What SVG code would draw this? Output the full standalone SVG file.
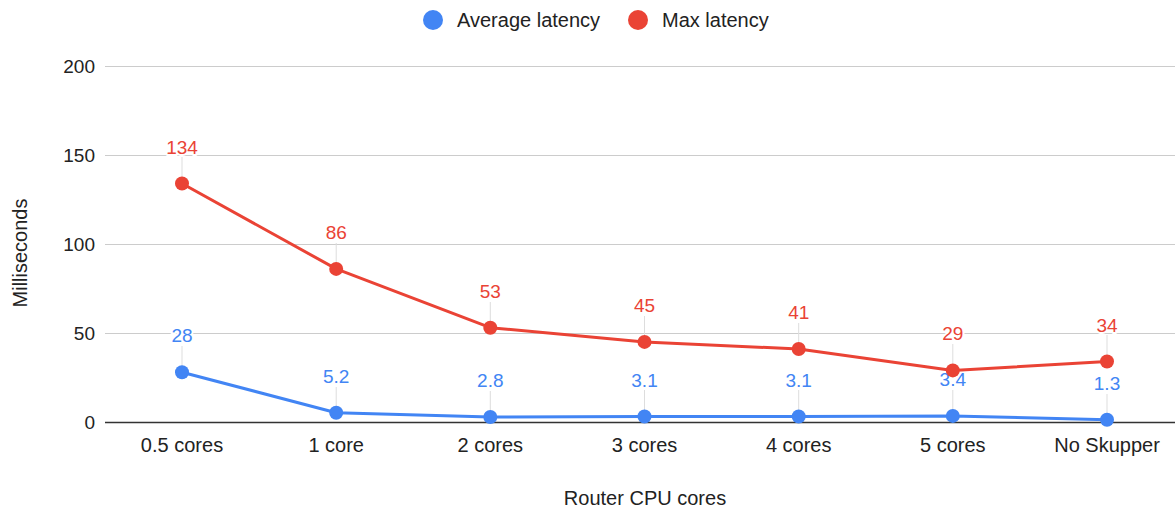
<svg xmlns="http://www.w3.org/2000/svg" width="1175" height="511" viewBox="0 0 1175 511">
  <style>
    text { font-family: "Liberation Sans", Arial, sans-serif; }
    .grid { stroke: #cccccc; stroke-width: 1; }
    .base { stroke: #333333; stroke-width: 1.5; }
    .tick { font-size: 19px; fill: #222222; text-anchor: end; }
    .cat { font-size: 20px; fill: #222222; text-anchor: middle; }
    .title { font-size: 20px; fill: #222222; text-anchor: middle; }
    .legend { font-size: 20px; fill: #222222; }
    .leader { stroke: #dddddd; stroke-width: 1; }
    .lbl { font-size: 19px; text-anchor: middle; stroke: #ffffff; stroke-width: 4; stroke-linejoin: round; paint-order: stroke; }
    .lbl-avg { fill: #4285f4; }
    .lbl-max { fill: #ea4335; }
    .line-avg { fill: none; stroke: #4285f4; stroke-width: 3; stroke-linejoin: round; }
    .line-max { fill: none; stroke: #ea4335; stroke-width: 3; stroke-linejoin: round; }
    .pt-avg { fill: #4285f4; }
    .pt-max { fill: #ea4335; }
  </style>
  <rect width="1175" height="511" fill="#ffffff"/>

  <!-- Legend -->
  <g id="legend">
    <circle cx="433" cy="20" r="10" class="pt-avg"/>
    <text x="457" y="27" class="legend">Average latency</text>
    <circle cx="638" cy="20" r="10" class="pt-max"/>
    <text x="662" y="27" class="legend">Max latency</text>
  </g>

  <!-- Value axis: gridlines and tick labels -->
  <g id="y-axis">
    <line x1="105" y1="66.5" x2="1175" y2="66.5" class="grid"/>
    <line x1="105" y1="155.5" x2="1175" y2="155.5" class="grid"/>
    <line x1="105" y1="244.5" x2="1175" y2="244.5" class="grid"/>
    <line x1="105" y1="333.5" x2="1175" y2="333.5" class="grid"/>
    <text x="95" y="73" class="tick">200</text>
    <text x="95" y="162" class="tick">150</text>
    <text x="95" y="251" class="tick">100</text>
    <text x="95" y="340" class="tick">50</text>
    <text x="95" y="429" class="tick">0</text>
    <text transform="translate(27 253) rotate(-90)" class="title">Milliseconds</text>
  </g>

  <!-- Leader lines from data labels to points -->
  <g id="leaders">
    <line x1="182" y1="157" x2="182" y2="183.5" class="leader"/>
    <line x1="336.2" y1="243" x2="336.2" y2="268.9" class="leader"/>
    <line x1="490.3" y1="302" x2="490.3" y2="327.7" class="leader"/>
    <line x1="644.5" y1="316" x2="644.5" y2="341.9" class="leader"/>
    <line x1="798.7" y1="323" x2="798.7" y2="349" class="leader"/>
    <line x1="952.8" y1="344" x2="952.8" y2="370.4" class="leader"/>
    <line x1="1107" y1="335" x2="1107" y2="361.5" class="leader"/>
    <line x1="182" y1="346" x2="182" y2="372.2" class="leader"/>
    <line x1="336.2" y1="387" x2="336.2" y2="412.7" class="leader"/>
    <line x1="490.3" y1="391" x2="490.3" y2="417" class="leader"/>
    <line x1="644.5" y1="390" x2="644.5" y2="416.5" class="leader"/>
    <line x1="798.7" y1="390" x2="798.7" y2="416.5" class="leader"/>
    <line x1="952.8" y1="390" x2="952.8" y2="415.9" class="leader"/>
    <line x1="1107" y1="394" x2="1107" y2="419.7" class="leader"/>
  </g>

  <!-- Data labels -->
  <g id="labels-max" class="lbl lbl-max">
    <text x="182" y="153.5">134</text>
    <text x="336.2" y="238.9">86</text>
    <text x="490.3" y="297.7">53</text>
    <text x="644.5" y="311.9">45</text>
    <text x="798.7" y="319">41</text>
    <text x="952.8" y="340.4">29</text>
    <text x="1107" y="331.5">34</text>
  </g>
  <g id="labels-avg" class="lbl lbl-avg">
    <text x="182" y="342.2">28</text>
    <text x="336.2" y="382.7">5.2</text>
    <text x="490.3" y="387">2.8</text>
    <text x="644.5" y="386.5">3.1</text>
    <text x="798.7" y="386.5">3.1</text>
    <text x="952.8" y="385.9">3.4</text>
    <text x="1107" y="389.7">1.3</text>
  </g>

  <!-- Baseline -->
  <line x1="105" y1="422.5" x2="1175" y2="422.5" class="base"/>

  <!-- Series -->
  <g id="series-avg">
    <polyline class="line-avg" points="182,372.2 336.2,412.7 490.3,417 644.5,416.5 798.7,416.5 952.8,415.9 1107,419.7"/>
    <circle cx="182" cy="372.2" r="7" class="pt-avg"/>
    <circle cx="336.2" cy="412.7" r="7" class="pt-avg"/>
    <circle cx="490.3" cy="417" r="7" class="pt-avg"/>
    <circle cx="644.5" cy="416.5" r="7" class="pt-avg"/>
    <circle cx="798.7" cy="416.5" r="7" class="pt-avg"/>
    <circle cx="952.8" cy="415.9" r="7" class="pt-avg"/>
    <circle cx="1107" cy="419.7" r="7" class="pt-avg"/>
  </g>
  <g id="series-max">
    <polyline class="line-max" points="182,183.5 336.2,268.9 490.3,327.7 644.5,341.9 798.7,349 952.8,370.4 1107,361.5"/>
    <circle cx="182" cy="183.5" r="7" class="pt-max"/>
    <circle cx="336.2" cy="268.9" r="7" class="pt-max"/>
    <circle cx="490.3" cy="327.7" r="7" class="pt-max"/>
    <circle cx="644.5" cy="341.9" r="7" class="pt-max"/>
    <circle cx="798.7" cy="349" r="7" class="pt-max"/>
    <circle cx="952.8" cy="370.4" r="7" class="pt-max"/>
    <circle cx="1107" cy="361.5" r="7" class="pt-max"/>
  </g>

  <!-- Category axis -->
  <g id="x-axis">
    <text x="182" y="452" class="cat">0.5 cores</text>
    <text x="336.2" y="452" class="cat">1 core</text>
    <text x="490.3" y="452" class="cat">2 cores</text>
    <text x="644.5" y="452" class="cat">3 cores</text>
    <text x="798.7" y="452" class="cat">4 cores</text>
    <text x="952.8" y="452" class="cat">5 cores</text>
    <text x="1107" y="452" class="cat">No Skupper</text>
    <text x="645" y="505" class="title">Router CPU cores</text>
  </g>
</svg>
